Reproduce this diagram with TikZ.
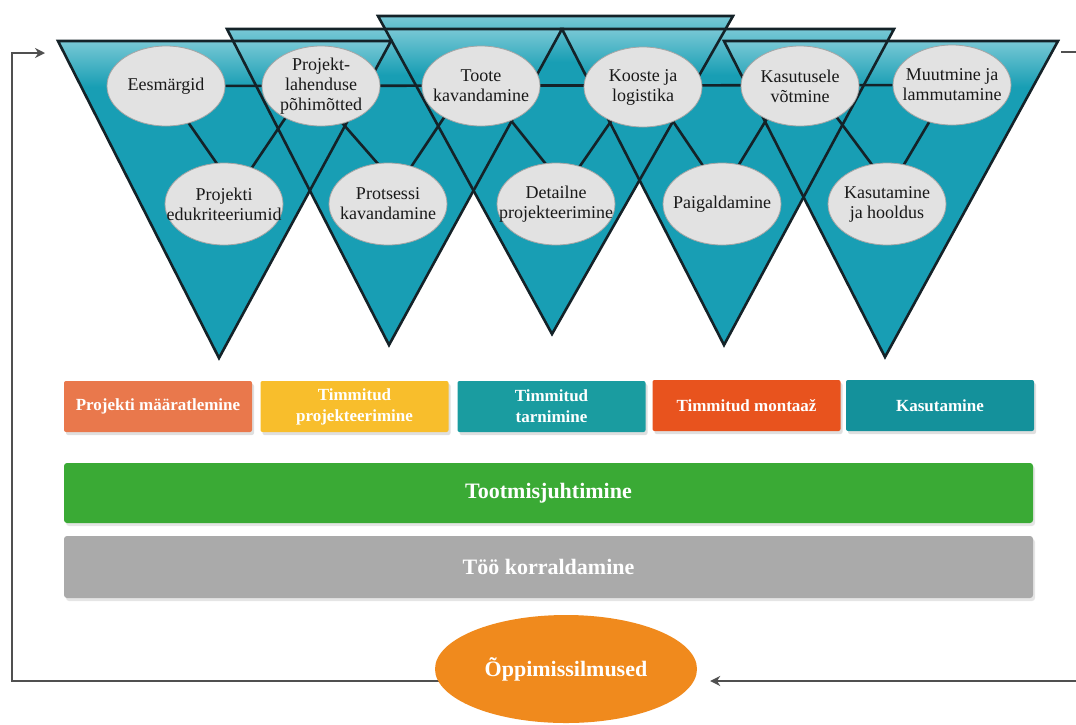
\documentclass[tikz,border=0pt]{standalone}
\usepackage{fontspec}
\setmainfont{Liberation Serif}
\usetikzlibrary{shapes.geometric,arrows.meta,calc,shadows}
\pgfdeclarelayer{back}
\pgfdeclarelayer{mid}
\pgfsetlayers{back,mid,main}
\definecolor{teal1}{RGB}{24,158,180}
\definecolor{teal2}{RGB}{120,200,213}
\definecolor{teallight}{RGB}{228,245,248}
\definecolor{edgec}{RGB}{20,34,40}
\definecolor{ellfill}{RGB}{226,226,226}
\definecolor{ellline}{RGB}{165,165,165}
\definecolor{cSalmon}{RGB}{233,120,76}
\definecolor{cYellow}{RGB}{248,190,44}
\definecolor{cTeal}{RGB}{26,156,160}
\definecolor{cRed}{RGB}{232,83,30}
\definecolor{cTealB}{RGB}{20,145,155}
\definecolor{cGreen}{RGB}{58,170,53}
\definecolor{cGray}{RGB}{170,170,170}
\definecolor{cOrange}{RGB}{240,138,29}
\definecolor{loopc}{RGB}{80,80,80}
\begin{document}
\begin{tikzpicture}[x=1pt,y=-1pt,
  tri/.style={draw=edgec, line width=2.6pt, line join=miter},
  conn/.style={draw=edgec, line width=2.6pt},
  bub/.style={ellipse, fill=ellfill, draw=ellline, line width=0.8pt,
    minimum width=118pt, minimum height=80pt, inner xsep=-30pt, inner ysep=-10pt, align=center,
    text=black!90, font=\fontsize{18}{20}\selectfont},
  bubl/.style={bub, minimum height=82pt},
  phase/.style={rectangle, rounded corners=2pt, minimum width=188pt,
    minimum height=51pt, inner sep=0pt, align=center, text=white,
    font=\bfseries\fontsize{17}{21}\selectfont,
    drop shadow={opacity=0.25, shadow xshift=2pt, shadow yshift=-3pt}},
  band/.style={rectangle, rounded corners=3pt, minimum width=969pt,
    inner sep=0pt, text=white, font=\bfseries\fontsize{22}{24}\selectfont,
    drop shadow={opacity=0.2, shadow xshift=2pt, shadow yshift=-3pt}},
  loopline/.style={draw=loopc, line width=2pt},
  tip/.style={-{Stealth[length=10pt,width=10pt]}}
]
\useasboundingbox (0,0) rectangle (1076,724);

% triangles
\begin{pgfonlayer}{back}
\fill[white] (0,0) rectangle (1076,724);
\foreach \lx/\rx/\ty/\ax/\ay in {378/733/16/552/334, 227/562/29/389/345, 562/894/29/724/345, 58/391/41/219/358, 724/1058/41/885/357}{
  \fill[teal1] (\lx,\ty) -- (\rx,\ty) -- (\ax,\ay) -- cycle;
  \begin{scope}
    \clip (\lx,\ty) -- (\rx,\ty) -- (\ax,\ay) -- cycle;
    \shade[top color=teal2, middle color=teallight, bottom color=teal1]
      (\lx,\ty) rectangle (\rx,\ty+46);
  \end{scope}
}
\foreach \lx/\rx/\ty/\ax/\ay in {378/733/16/552/334, 227/562/29/389/345, 562/894/29/724/345, 58/391/41/219/358, 724/1058/41/885/357}{
  \draw[tri] (\lx,\ty) -- (\rx,\ty) -- (\ax,\ay) -- cycle;
}
\end{pgfonlayer}

% ellipses
\node[bub] (t1) at (166,86) {Eesmärgid};
\node[bub] (t2) at (321,86) {Projekt-\\lahenduse\\põhimõtted};
\node[bub] (t3) at (481,86) {Toote\\kavandamine};
\node[bub] (t4) at (643,87) {Kooste ja\\logistika};
\node[bub] (t5) at (800,86) {Kasutusele\\võtmine};
\node[bub] (t6) at (952,85) {Muutmine ja\\lammutamine};
\node[bubl] (b1) at (224,204) {Projekti\\edukriteeriumid};
\node[bubl] (b2) at (388,204) {Protsessi\\kavandamine};
\node[bubl] (b3) at (556,204) {Detailne\\projekteerimine};
\node[bubl] (b4) at (722,204) {Paigaldamine};
\node[bubl] (b5) at (887,204) {Kasutamine\\ja hooldus};

\begin{pgfonlayer}{mid}
\draw[conn] (t1) -- (t6);
\draw[conn] ($(t1)+(6.6,14)$) -- ($(b1)+(7.8,-19)$);
\draw[conn] ($(b1)+(16.2,-19)$) -- ($(t2)+(-23.5,14)$);
\draw[conn] ($(t2)+(1.1,14)$) -- ($(b2)+(8.5,-19)$);
\draw[conn] ($(b2)+(11,-19)$) -- ($(t3)+(-25.3,14)$);
\draw[conn] ($(t3)+(13.6,14)$) -- ($(b3)+(6.6,-19)$);
\draw[conn] ($(b3)+(10.9,-19)$) -- ($(t4)+(-18,14)$);
\draw[conn] ($(t4)+(16.3,14)$) -- ($(b4)+(-6,-19)$);
\draw[conn] ($(b4)+(4.5,-19)$) -- ($(t5)+(-21.6,14)$);
\draw[conn] ($(t5)+(23.9,14)$) -- ($(b5)+(0.1,-19)$);
\draw[conn] ($(b5)+(4.8,-19)$) -- ($(t6)+(-9.2,14)$);
\end{pgfonlayer}

% phases
\node[phase, fill=cSalmon] (p1) at (158,406.5) {Projekti määratlemine};
\node[phase, fill=cYellow] (p2) at (354.5,406.5) {Timmitud\\projekteerimine};
\node[phase, fill=cTeal] (p3) at (551.5,406.5) {Timmitud\\tarnimine};
\node[phase, fill=cRed] (p4) at (746.5,405.5) {Timmitud montaaž};
\node[phase, fill=cTealB] (p5) at (940,405.5) {Kasutamine};

% bands
\node[band, fill=cGreen, minimum height=60pt] (g) at (548.5,493) {Tootmisjuhtimine};
\node[band, fill=cGray, minimum height=62pt] (w) at (548.5,567) {Töö korraldamine};

% learning loop
\node[ellipse, fill=cOrange, minimum width=262pt, minimum height=108pt,
  inner sep=0pt, text=white, font=\bfseries\fontsize{22}{24}\selectfont] (opp) at (566,669) {Õppimissilmused};

\coordinate (lb) at (12,681);
\coordinate (lt) at (12,53);
\coordinate (la) at (45,53);
\coordinate (rb) at (1076,681);
\coordinate (rt1) at (1061,52);
\coordinate (rt2) at (1076,52);
\begin{pgfonlayer}{mid}
\draw[loopline, tip] (opp.center |- lb) -- (lb) -- (lt) -- (la);
\end{pgfonlayer}
\draw[loopline, tip] (rb) -- ($(opp.east)+(13,12)$);
\draw[loopline] (rt1) -- (rt2);
\end{tikzpicture}
\end{document}
